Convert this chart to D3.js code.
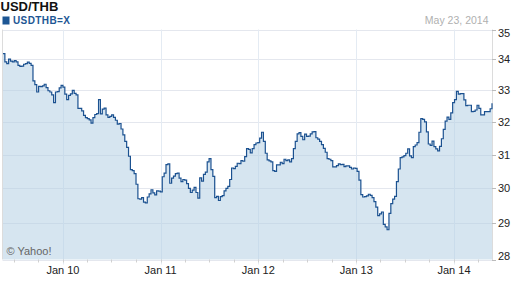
<!DOCTYPE html>
<meta charset="utf-8">
<head>
  <title>USD/THB</title>
</head>
<style>
  body { margin: 0; background: #fff; }
  svg { display: block; font-family: "Liberation Sans", Arial, sans-serif; }
  .title { font-size: 13px; font-weight: bold; fill: #111; }
  .symbol { font-size: 10px; font-weight: bold; fill: #1d5694; letter-spacing: 0.4px; }
  .asof { font-size: 10.5px; fill: #b0b0b0; }
  .ylab, .xlab { font-size: 11px; fill: #222; }
  .credit { font-size: 11px; fill: #666; }
</style>
<body>
<script src="https://cdnjs.cloudflare.com/ajax/libs/d3/7.8.5/d3.min.js"></script>
<script>
// weekly closes, USD/THB, starting Friday 22 May 2009
var startDate = "2009-05-22";
var rates = [
  34.19, 33.92, 33.86, 34.01, 33.94, 33.92, 33.96, 33.92, 33.80, 33.77,
  33.78, 33.84, 33.86, 33.91, 33.87, 33.80, 33.30, 33.18, 32.94, 33.12,
  33.11, 33.14, 33.19, 33.08, 32.98, 32.94, 32.85, 32.60, 32.94, 32.95,
  33.07, 33.15, 33.10, 32.87, 32.70, 32.83, 32.88, 32.99, 32.90, 32.85,
  32.42, 32.42, 32.34, 32.20, 32.13, 32.10, 32.06, 31.96, 32.13, 32.23,
  32.26, 32.70, 32.25, 32.40, 32.43, 32.22, 32.14, 32.17, 32.22, 32.14,
  32.05, 31.93, 31.95, 31.78, 31.60, 31.40, 31.22, 30.95, 30.55, 30.52,
  30.43, 30.12, 29.70, 29.69, 29.73, 29.60, 29.58, 29.75, 29.84, 29.96,
  29.87, 29.81, 29.93, 29.92, 29.90, 30.34, 30.45, 30.70, 30.72, 30.15,
  30.30, 30.36, 30.43, 30.45, 30.30, 30.20, 30.26, 30.24, 30.14, 30.00,
  29.88, 29.95, 30.03, 29.88, 29.72, 30.31, 30.21, 30.41, 30.48, 30.78,
  30.88, 30.55, 30.35, 29.73, 29.77, 29.65, 29.76, 29.79, 29.93, 30.00,
  30.06, 30.26, 30.60, 30.58, 30.65, 30.74, 30.73, 30.82, 30.80, 30.94,
  31.18, 31.16, 31.05, 31.18, 31.30, 31.35, 31.36, 31.50, 31.68, 31.40,
  31.04, 30.84, 30.81, 30.78, 30.52, 30.50, 30.69, 30.69, 30.77, 30.73,
  30.86, 30.82, 30.84, 30.78, 30.88, 31.18, 31.40, 31.63, 31.67, 31.55,
  31.45, 31.62, 31.55, 31.56, 31.63, 31.69, 31.70, 31.51, 31.47, 31.40,
  31.30, 31.19, 31.07, 30.88, 30.86, 30.82, 30.63, 30.63, 30.67, 30.72,
  30.70, 30.71, 30.64, 30.66, 30.66, 30.62, 30.57, 30.60, 30.59, 30.50,
  30.24, 29.82, 29.75, 29.76, 29.78, 29.83, 29.80, 29.73, 29.62, 29.46,
  29.22, 29.27, 29.32, 28.97, 28.90, 28.82, 29.28, 29.56, 29.69, 29.77,
  30.20, 30.57, 30.91, 30.93, 30.97, 31.04, 31.17, 30.96, 30.91, 31.24,
  31.29, 31.36, 31.68, 32.10, 32.08, 32.00, 31.69, 31.32, 31.28, 31.41,
  31.24, 31.17, 31.11, 31.25, 31.48, 31.77, 32.02, 32.15, 32.08, 32.28,
  32.60, 32.70, 32.96, 32.87, 32.89, 32.89, 32.69, 32.51, 32.52, 32.52,
  32.32, 32.33, 32.37, 32.52, 32.42, 32.22, 32.22, 32.32, 32.32, 32.32,
  32.41, 32.58
];
var yTicks = [28, 29, 30, 31, 32, 33, 34, 35];
var yearTicks = [2010, 2011, 2012, 2013, 2014];
var yearLabels = ["Jan 10", "Jan 11", "Jan 12", "Jan 13", "Jan 14"];

var width = 512, height = 288;
var plot = {left: 2.5, right: 492, top: 29.5, bottom: 259.5};

var parse = d3.timeParse("%Y-%m-%d");
var start = parse(startDate);
var data = rates.map(function(r, i) {
  return {date: d3.timeWeek.offset(start, i), rate: r};
});

var x = d3.scaleTime()
    .domain([start, data[data.length - 1].date])
    .range([3, plot.right]);
var y = d3.scaleLog()
    .domain([28, 35])
    .range([plot.bottom, plot.top]);

var svg = d3.select("body").append("svg")
    .attr("width", width)
    .attr("height", height);

// horizontal grid
svg.append("g")
  .selectAll("line")
  .data(yTicks)
  .enter().append("line")
    .attr("x1", plot.left)
    .attr("x2", plot.right + 4)
    .attr("y1", function(d) { return Math.round(y(d)) + 0.5; })
    .attr("y2", function(d) { return Math.round(y(d)) + 0.5; })
    .attr("stroke", "#e4e7ee");

// vertical grid at year starts
svg.append("g")
  .selectAll("line")
  .data(yearTicks)
  .enter().append("line")
    .attr("x1", function(d) { return Math.round(x(new Date(d, 0, 1))) + 0.5; })
    .attr("x2", function(d) { return Math.round(x(new Date(d, 0, 1))) + 0.5; })
    .attr("y1", plot.top)
    .attr("y2", plot.bottom + 5)
    .attr("stroke", "#e4ebf3");

// plot frame (left / right)
svg.append("line")
    .attr("x1", plot.left).attr("x2", plot.left)
    .attr("y1", plot.top).attr("y2", plot.bottom)
    .attr("stroke", "#dcdcdc");
svg.append("line")
    .attr("x1", plot.right + 0.5).attr("x2", plot.right + 0.5)
    .attr("y1", plot.top).attr("y2", plot.bottom + 0.5)
    .attr("stroke", "#dcdcdc");

// area + line
var area = d3.area()
    .curve(d3.curveStepAfter)
    .x(function(d) { return x(d.date); })
    .y0(plot.bottom)
    .y1(function(d) { return y(d.rate); });

var line = d3.line()
    .curve(d3.curveStepAfter)
    .x(function(d) { return x(d.date); })
    .y(function(d) { return y(d.rate); });

svg.append("path")
    .datum(data)
    .attr("d", area)
    .attr("fill", "#b5d0e4")
    .attr("fill-opacity", 0.55);

svg.append("path")
    .datum(data)
    .attr("d", line)
    .attr("fill", "none")
    .attr("stroke", "#1b5190")
    .attr("stroke-width", 1.2);

// bottom quarter ticks
var quarters = d3.timeMonth.every(3).range(new Date(2009, 6, 1), new Date(2014, 5, 1));
svg.append("g")
  .selectAll("line")
  .data(quarters)
  .enter().append("line")
    .attr("x1", function(d) { return Math.round(x(d)) + 0.5; })
    .attr("x2", function(d) { return Math.round(x(d)) + 0.5; })
    .attr("y1", plot.bottom)
    .attr("y2", plot.bottom + 3)
    .attr("stroke", "#d0d0d0");

// right axis ticks + labels
svg.append("g")
  .selectAll("line")
  .data(yTicks)
  .enter().append("line")
    .attr("x1", plot.right)
    .attr("x2", plot.right + 4)
    .attr("y1", function(d) { return Math.round(y(d)) + 0.5; })
    .attr("y2", function(d) { return Math.round(y(d)) + 0.5; })
    .attr("stroke", "#bbb");

svg.append("g")
  .selectAll("text")
  .data(yTicks)
  .enter().append("text")
    .attr("class", "ylab")
    .attr("x", 498)
    .attr("y", function(d) {
      if (d === 35) return y(d) + 7.5;
      if (d === 28) return y(d) + 0.5;
      return y(d) + 4;
    })
    .text(function(d) { return d; });

// bottom labels
svg.append("g")
  .selectAll("text")
  .data(yearTicks)
  .enter().append("text")
    .attr("class", "xlab")
    .attr("x", function(d) { return x(new Date(d, 0, 1)); })
    .attr("y", 273.5)
    .attr("text-anchor", "middle")
    .text(function(d, i) { return yearLabels[i]; });

// header
svg.append("text")
    .attr("class", "title")
    .attr("x", 0.5)
    .attr("y", 11)
    .text("USD/THB");

svg.append("rect")
    .attr("x", 2.5).attr("y", 16.5)
    .attr("width", 7).attr("height", 8)
    .attr("fill", "#1d5694");

svg.append("text")
    .attr("class", "symbol")
    .attr("x", 13)
    .attr("y", 24.3)
    .text("USDTHB=X");

svg.append("text")
    .attr("class", "asof")
    .attr("x", 488.5)
    .attr("y", 24)
    .attr("text-anchor", "end")
    .text("May 23, 2014");

svg.append("text")
    .attr("class", "credit")
    .attr("x", 6.5)
    .attr("y", 254.5)
    .text("\u00a9 Yahoo!");
</script>
</body>
